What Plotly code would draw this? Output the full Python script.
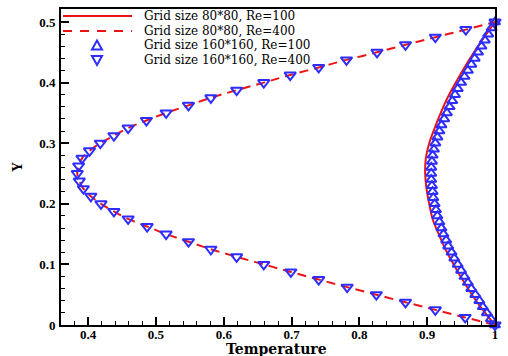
import plotly.graph_objects as go

# Re=400 (both grids) : y positions and temperatures
y_re400 = [0.0, 0.0125, 0.025, 0.0375, 0.05, 0.0625, 0.075, 0.0875, 0.1, 0.1125,
           0.125, 0.1375, 0.15, 0.1625, 0.175, 0.1875, 0.2, 0.2125, 0.225, 0.2375,
           0.25, 0.2625, 0.275, 0.2875, 0.3, 0.3125, 0.325, 0.3375, 0.35, 0.3625,
           0.375, 0.3875, 0.4, 0.4125, 0.425, 0.4375, 0.45, 0.4625, 0.475, 0.4875, 0.5]
t_re400_80 = [1.0, 0.956, 0.912, 0.868, 0.825, 0.782, 0.740, 0.699, 0.659, 0.619,
              0.581, 0.548, 0.515, 0.487, 0.459, 0.438, 0.419, 0.404, 0.393, 0.387,
              0.384, 0.386, 0.391, 0.402, 0.418, 0.438, 0.459, 0.486, 0.515, 0.548,
              0.581, 0.619, 0.659, 0.698, 0.740, 0.781, 0.826, 0.868, 0.912, 0.957, 1.0]
t_re400_160 = [1.0, 0.956, 0.912, 0.868, 0.825, 0.782, 0.740, 0.699, 0.659, 0.619,
               0.581, 0.548, 0.515, 0.487, 0.459, 0.438, 0.419, 0.404, 0.393, 0.387,
               0.384, 0.386, 0.391, 0.402, 0.418, 0.438, 0.459, 0.486, 0.515, 0.548,
               0.581, 0.619, 0.659, 0.698, 0.740, 0.781, 0.826, 0.868, 0.912, 0.957, 1.0]

# Re=100, grid 80*80 (solid line)
y_re100_80 = [0.0, 0.025, 0.05, 0.075, 0.1, 0.125, 0.15, 0.175, 0.2, 0.225, 0.25,
              0.275, 0.3, 0.325, 0.35, 0.375, 0.4, 0.425, 0.45, 0.475, 0.5]
t_re100_80 = [1.000, 0.982, 0.966, 0.952, 0.939, 0.927, 0.917, 0.908, 0.903, 0.899, 0.897,
              0.898, 0.903, 0.911, 0.920, 0.930, 0.942, 0.955, 0.969, 0.984, 1.000]

# Re=100, grid 160*160 (up triangles)
y_re100_160 = [0.00, 0.01, 0.02, 0.03, 0.04, 0.05, 0.06, 0.07, 0.08, 0.09,
               0.10, 0.11, 0.12, 0.13, 0.14, 0.15, 0.16, 0.17, 0.18, 0.19,
               0.20, 0.21, 0.22, 0.23, 0.24, 0.25, 0.26, 0.27, 0.28, 0.29,
               0.30, 0.31, 0.32, 0.33, 0.34, 0.35, 0.36, 0.37, 0.38, 0.39,
               0.40, 0.41, 0.42, 0.43, 0.44, 0.45, 0.46, 0.47, 0.48, 0.49, 0.50]
t_re100_160 = [1.000, 0.994, 0.988, 0.982, 0.977, 0.971, 0.965, 0.960, 0.955, 0.950,
               0.945, 0.940, 0.936, 0.931, 0.928, 0.924, 0.921, 0.918, 0.915, 0.913,
               0.911, 0.909, 0.908, 0.907, 0.906, 0.906, 0.906, 0.907, 0.908, 0.910,
               0.912, 0.915, 0.918, 0.921, 0.925, 0.929, 0.933, 0.937, 0.941, 0.945,
               0.950, 0.955, 0.960, 0.965, 0.970, 0.975, 0.980, 0.985, 0.990, 0.995, 1.000]

names = ["Grid size 80*80, Re=100", "Grid size 80*80, Re=400",
         "Grid size 160*160, Re=100", "Grid size 160*160, Re=400"]
x_title = "Temperature"
y_title = "Y"

RED = "rgb(235,20,20)"
BLUE = "rgb(45,45,255)"
SERIF = "Liberation Serif"
WIDE_SERIF = "DejaVu Serif"

W, H = 508, 356
ML, MR, MT, MB = 61, 13, 9, 31
PW, PH = W - ML - MR, H - MT - MB

fig = go.Figure()
fig.add_trace(go.Scatter(x=t_re100_80, y=y_re100_80, mode="lines", name=names[0],
                         line=dict(color=RED, width=2, shape="spline"), cliponaxis=False))
fig.add_trace(go.Scatter(x=t_re400_80, y=y_re400, mode="lines", name=names[1],
                         line=dict(color=RED, width=2, dash="9px,6px", shape="spline"), cliponaxis=False))
fig.add_trace(go.Scatter(x=t_re100_160, y=y_re100_160, mode="markers", name=names[2],
                         marker=dict(symbol="triangle-up-open", size=9, color=BLUE,
                                     line=dict(color=BLUE, width=2)), cliponaxis=False))
fig.add_trace(go.Scatter(x=t_re400_160, y=y_re400, mode="markers", name=names[3],
                         marker=dict(symbol="triangle-down-open", size=10, color=BLUE,
                                     line=dict(color=BLUE, width=2)), cliponaxis=False))

tickfont = dict(family=SERIF, size=13, color="black", weight="bold")
axis_common = dict(showline=True, linecolor="black", linewidth=2, mirror=True,
                   ticks="inside", ticklen=8, tickwidth=2, tickcolor="black",
                   showgrid=False, zeroline=False, tickfont=tickfont, automargin=False,
                   minor=dict(ticks="inside", ticklen=4, tickwidth=1, tickcolor="black", dtick=0.02))

fig.update_xaxes(range=[0.36, 1.0], dtick=0.1, tick0=0.4, ticklabelstandoff=-4, **axis_common)
fig.update_yaxes(range=[0, 0.5215], dtick=0.1, tick0=0, ticklabelstandoff=1, **axis_common)


def px(xp):
    return (xp - ML) / PW


def py(yp):
    return (MT + PH - yp) / PH


# manual legend (pixel positions converted to paper fractions)
rows = [16, 31, 45.5, 60]
shapes = [
    dict(type="line", xref="paper", yref="paper", x0=px(63), x1=px(132), y0=py(rows[0]), y1=py(rows[0]),
         line=dict(color=RED, width=2)),
    dict(type="line", xref="paper", yref="paper", x0=px(63), x1=px(132), y0=py(rows[1]), y1=py(rows[1]),
         line=dict(color=RED, width=2, dash="9px,8px")),
]
cx = 97
shapes.append(dict(type="path", xref="paper", yref="paper",
                   path=f"M {px(cx-5)},{py(rows[2]+4)} L {px(cx+5)},{py(rows[2]+4)} L {px(cx)},{py(rows[2]-5)} Z",
                   line=dict(color=BLUE, width=2)))
shapes.append(dict(type="path", xref="paper", yref="paper",
                   path=f"M {px(cx-5)},{py(rows[3]-4)} L {px(cx+5)},{py(rows[3]-4)} L {px(cx)},{py(rows[3]+5)} Z",
                   line=dict(color=BLUE, width=2)))

annotations = [dict(text=n, xref="paper", yref="paper", x=px(142), y=py(r), xanchor="left", yanchor="middle",
                    showarrow=False, font=dict(family=WIDE_SERIF, size=12, color="black"))
               for n, r in zip(names, rows)]
# axis titles
annotations.append(dict(text=x_title, xref="paper", yref="paper", x=px(276), y=py(349),
                        xanchor="center", yanchor="middle", showarrow=False,
                        font=dict(family=WIDE_SERIF, size=14, color="black", weight="bold")))
annotations.append(dict(text=y_title, xref="paper", yref="paper", x=px(17), y=py(167),
                        xanchor="center", yanchor="middle", showarrow=False, textangle=-90,
                        font=dict(family=SERIF, size=14, color="black", weight="bold")))

fig.update_layout(
    width=W, height=H,
    margin=dict(l=ML, r=MR, t=MT, b=MB),
    plot_bgcolor="white", paper_bgcolor="white",
    showlegend=False,
    shapes=shapes,
    annotations=annotations,
)

fig.write_html("out.html", config={"displayModeBar": False},
               post_script="document.body.style.margin='0';")
